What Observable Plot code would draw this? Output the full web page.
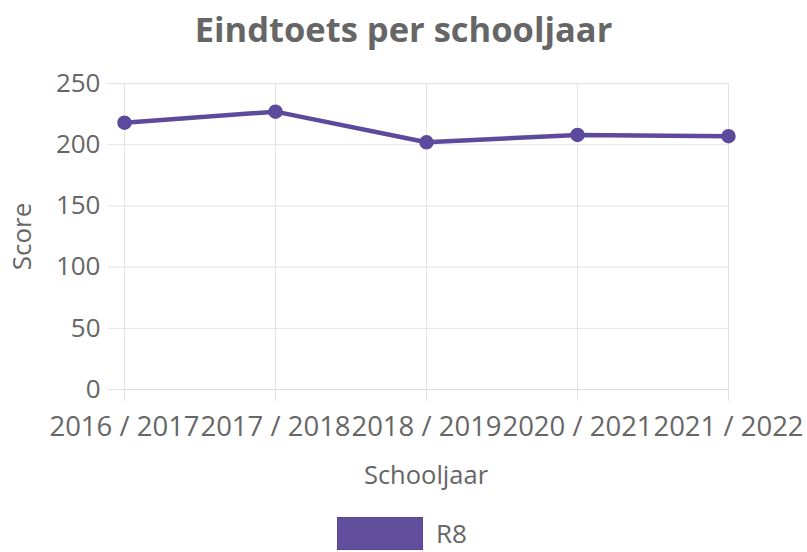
<!DOCTYPE html>
<html>
<head>
<meta charset="utf-8">
<script src="https://cdn.jsdelivr.net/npm/d3@7"></script>
<script src="https://cdn.jsdelivr.net/npm/@observablehq/plot@0.6"></script>
<style>
  html, body { margin: 0; padding: 0; background: #fff; }
  #wrap { position: relative; width: 807px; height: 552px; font-family: "Open Sans", sans-serif; }
  #title { position: absolute; left: 0; top: 5px; width: 807px; text-align: center; font-weight: bold; font-size: 34.5px; color: #666; line-height: 48px; }
  #chart { position: absolute; left: 0; top: 55px; }
  #legend { position: absolute; left: 0; top: 517px; width: 807px; height: 34px; }
  #legend .box { position: absolute; left: 337px; top: 0; width: 84px; height: 31px; border: 1px solid #584593; }
  #legend .lbl { position: absolute; left: 436px; top: 0; line-height: 33px; font-size: 26px; color: #666; }
</style>
</head>
<body>
<div id="wrap">
  <div id="title"></div>
  <div id="chart"></div>
  <div id="legend"><div class="box"></div><div class="lbl"></div></div>
</div>
<script>
const titleText = "Eindtoets per schooljaar";
const xLabel = "Schooljaar";
const yLabel = "Score";
const seriesName = "R8";
const schooljaren = ["2016 / 2017", "2017 / 2018", "2018 / 2019", "2020 / 2021", "2021 / 2022"];
const scores = [218, 227, 202, 208, 207];
const yTicks = [0, 50, 100, 150, 200, 250];
const lineColor = "#5c4a9c";

const data = schooljaren.map((s, i) => ({jaar: s, score: scores[i]}));

document.getElementById("title").textContent = titleText;
document.querySelector("#legend .lbl").textContent = seriesName;
document.querySelector("#legend .box").style.background = "#614e9d";

const gridColor = "#e3e3e3";
const textColor = "#666";
const font = "Open Sans";

const chart = Plot.plot({
  width: 807,
  height: 450,
  marginLeft: 123,
  marginRight: 79,
  marginTop: 28,
  marginBottom: 116,
  style: {fontFamily: font, fontSize: "26px", color: textColor, background: "transparent"},
  x: {type: "point", domain: schooljaren, padding: 0},
  y: {domain: [0, 250]},
  marks: [
    Plot.gridX(schooljaren, {stroke: gridColor, strokeOpacity: 1}),
    Plot.gridY(yTicks, {stroke: gridColor, strokeOpacity: 1}),
    Plot.axisY(yTicks, {tickSize: 15, tickPadding: 8, stroke: gridColor, strokeOpacity: 1, fill: textColor, fontSize: 26, fontFamily: font, label: null}),
    Plot.axisX(schooljaren, {tickSize: 12, tickPadding: 15, stroke: gridColor, strokeOpacity: 1, fill: textColor, fontSize: 27.5, fontFamily: font, label: null}),
    Plot.ruleY([0], {stroke: "#dcdcdc"}),
    Plot.text([xLabel], {frameAnchor: "bottom", textAnchor: "middle", lineAnchor: "top", dy: 76, fill: textColor, fontSize: 25.5, fontFamily: font}),
    Plot.text([yLabel], {frameAnchor: "left", textAnchor: "middle", lineAnchor: "middle", rotate: -90, dx: -101, fill: textColor, fontSize: 26, fontFamily: font}),
    Plot.line(data, {x: "jaar", y: "score", stroke: lineColor, strokeWidth: 4.5}),
    Plot.dot(data, {x: "jaar", y: "score", r: 6.5, fill: lineColor, stroke: lineColor})
  ]
});
document.getElementById("chart").appendChild(chart);
</script>
</body>
</html>
